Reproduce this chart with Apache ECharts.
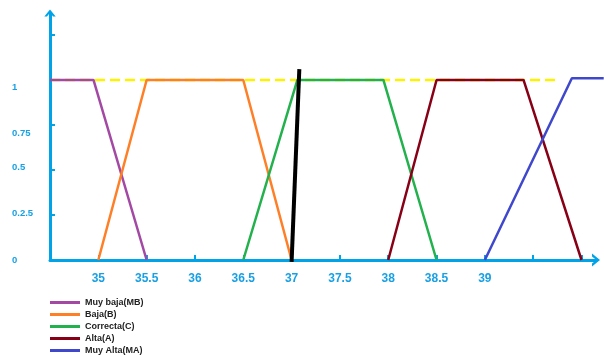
<!DOCTYPE html>
<html><head><meta charset="utf-8">
<script src="https://cdn.jsdelivr.net/npm/echarts@6/dist/echarts.min.js"></script>
<style>html,body{margin:0;padding:0;background:#fff}#c{width:604px;height:357px}</style>
</head><body><div id="c"></div>
<script>
const xTickLabels = ['35','35.5','36','36.5','37','37.5','38','38.5','39'];
const yTickValues = [0, 0.25, 0.5, 0.75, 1];
const yTickLabels = ['0', '0.2.5', '0.5', '0.75', '1'];
const seriesNames = ['Muy baja(MB)', 'Baja(B)', 'Correcta(C)', 'Alta(A)', 'Muy Alta(MA)'];
const muyBaja = [[34.5, 1], [34.95, 1], [35.5, 0]];
const baja = [[35, 0], [35.5, 1], [36.5, 1], [37, 0]];
const correcta = [[36.5, 0], [37.06, 1], [37.95, 1], [38.5, 0]];
const alta = [[38, 0], [38.5, 1], [39.4, 1], [40, 0]];
const muyAlta = [[39, 0], [39.9, 1.01], [40.23, 1.01]];
const referencia = [[34.5, 1], [39.75, 1]];
const corte = [[37, -0.01], [37.08, 1.06]];

const colors = ['#a349a4', '#ff7f27', '#22b14c', '#880015', '#3f48cc'];
const axisBlue = '#00a2e8';
const labelBlue = '#18a0e4';
const chevron = 'path://M0,8 L6.5,0 L13,8 L10,8 L6.5,3.7 L3,8 Z';

// axis geometry
const W = 604, gridLeft = 50, gridRight = 8, gridTop = 13, gridBottom = 97;
const xMin = 34.5, xMax = 40.15, yMax = 1.372;
const pxPerUnit = (W - gridLeft - gridRight) / (xMax - xMin);
const xMaxWide = xMin + (W - gridLeft) / pxPerUnit; // same scale, grid reaching the right edge

const chart = echarts.init(document.getElementById('c'), null, {renderer: 'canvas'});
const richBase = {fontSize: 9.5, fontWeight: 'bold', color: labelBlue, fontFamily: 'Liberation Sans'};
const lineSeries = (name, data, i, ax) => ({
  name, type: 'line', data, symbol: 'none', clip: false, z: 3,
  xAxisIndex: ax || 0, yAxisIndex: ax || 0,
  lineStyle: {color: colors[i], width: 2.5}, itemStyle: {color: colors[i]}
});
chart.setOption({
  animation: false,
  backgroundColor: '#fff',
  grid: [
    {left: gridLeft, right: gridRight, top: gridTop, bottom: gridBottom},
    {left: gridLeft, right: 0, top: gridTop, bottom: gridBottom}
  ],
  legend: {
    orient: 'vertical', left: 50, top: 297, height: 80, itemWidth: 30, itemHeight: 3, itemGap: 1,
    padding: 0,
    icon: 'rect', data: seriesNames,
    textStyle: {fontSize: 9, fontWeight: 'bold', color: '#222', fontFamily: 'Liberation Sans', lineHeight: 11}
  },
  xAxis: [{
    type: 'value', min: xMin, max: xMax, interval: 0.5, z: 2,
    splitLine: {show: false},
    axisLine: {onZero: false, lineStyle: {color: axisBlue, width: 3}, symbol: ['none', chevron], symbolSize: [13, 8]},
    axisTick: {inside: true, length: 5, lineStyle: {color: axisBlue, width: 2}},
    axisLabel: {
      margin: 13, fontSize: 12, fontWeight: 'bold', color: labelBlue, fontFamily: 'Liberation Sans',
      showMaxLabel: false, showMinLabel: false,
      formatter: v => { const s = String(+v.toFixed(2)); return xTickLabels.includes(s) ? s : ''; }
    }
  }, {
    type: 'value', gridIndex: 1, min: xMin, max: xMaxWide, show: false
  }],
  yAxis: [{
    type: 'value', min: 0, max: yMax, interval: 0.25, z: 2,
    splitLine: {show: false},
    axisLine: {onZero: false, lineStyle: {color: axisBlue, width: 3}, symbol: ['none', chevron], symbolSize: [13, 7]},
    axisTick: {inside: true, length: 5, lineStyle: {color: axisBlue, width: 2}},
    axisLabel: {
      align: 'left', margin: 38, fontSize: 9.5, fontWeight: 'bold', color: labelBlue, fontFamily: 'Liberation Sans',
      showMaxLabel: false,
      formatter: v => {
        const i = yTickValues.findIndex(t => Math.abs(t - v) < 1e-6);
        return i < 0 ? '' : '{o' + i + '|' + yTickLabels[i] + '}';
      },
      rich: {
        o0: Object.assign({}, richBase),
        o1: Object.assign({padding: [0, 0, 3, 0]}, richBase),
        o2: Object.assign({padding: [0, 0, 5, 0]}, richBase),
        o3: Object.assign({padding: [16, 0, 0, 0]}, richBase),
        o4: Object.assign({padding: [14, 0, 0, 0]}, richBase)
      }
    }
  }, {
    type: 'value', gridIndex: 1, min: 0, max: yMax, show: false
  }],
  series: [
    {name: 'ref', type: 'line', data: referencia, symbol: 'none', clip: false, z: 1,
     lineStyle: {color: '#fff200', width: 2.5, type: [10, 5]}},
    lineSeries(seriesNames[0], muyBaja, 0),
    lineSeries(seriesNames[1], baja, 1),
    lineSeries(seriesNames[2], correcta, 2),
    lineSeries(seriesNames[3], alta, 3),
    lineSeries(seriesNames[4], muyAlta, 4, 1),
    {name: 'corte', type: 'line', data: corte, symbol: 'none', clip: false, z: 5,
     lineStyle: {color: '#000', width: 4}}
  ]
});
</script>
</body></html>
